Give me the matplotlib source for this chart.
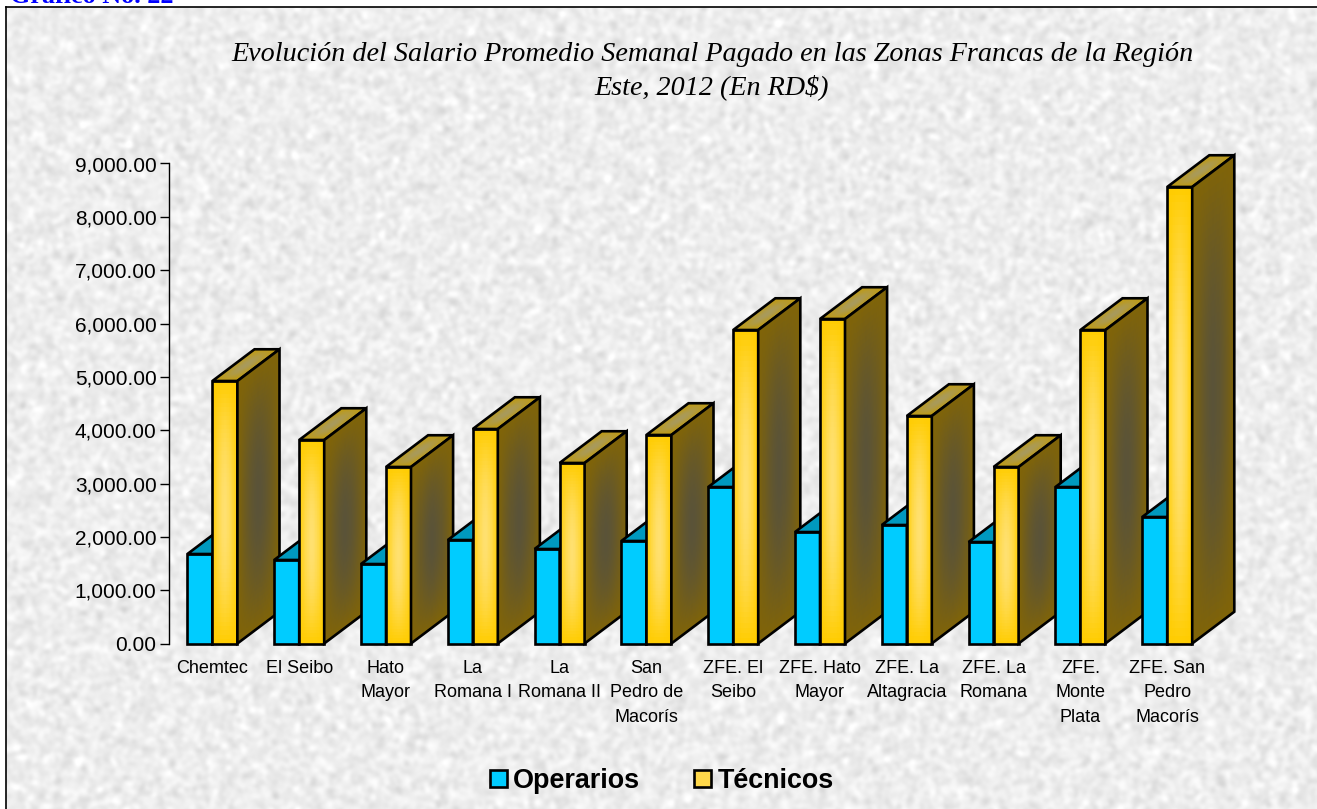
import numpy as np
import matplotlib
matplotlib.use("Agg")
import matplotlib.pyplot as plt
from matplotlib.patches import Patch

W, H = 1317, 809

# Data
zonas = ["Chemtec", "El Seibo", "Hato\nMayor", "La\nRomana I", "La\nRomana II",
         "San\nPedro de\nMacorís", "ZFE. El\nSeibo", "ZFE. Hato\nMayor",
         "ZFE. La\nAltagracia", "ZFE. La\nRomana", "ZFE.\nMonte\nPlata",
         "ZFE. San\nPedro\nMacorís"]
operarios = [1678, 1566, 1490, 1940, 1772, 1922, 2934, 2090, 2222, 1903, 2934, 2372]
tecnicos = [4922, 3816, 3310, 4022, 3385, 3910, 5878, 6085, 4266, 3310, 5878, 8560]
yticks = [0, 1000, 2000, 3000, 4000, 5000, 6000, 7000, 8000, 9000]

titulo = "Evolución del Salario Promedio Semanal Pagado en las Zonas Francas de la Región\nEste, 2012 (En RD$)"
encabezado = "Gráfico No. 22"

bar_w = 0.288
depth_x = 0.485
depth_y = 595

fig = plt.figure(figsize=(W / 100, H / 100), dpi=100, facecolor="white")

# background paper texture, only decoration
bg = fig.add_axes([6 / W, 0, 1 - 6 / W, 1 - 7 / H], zorder=-1)
rng = np.random.default_rng(4)
noise = rng.normal(size=(H, W))
fx = np.fft.fftfreq(W)[None, :]
fy = np.fft.fftfreq(H)[:, None]
r = np.sqrt(fx ** 2 + fy ** 2)
filt = np.exp(-(r / 0.09) ** 2) * (1 - np.exp(-(r / 0.015) ** 2))
tex = np.fft.ifft2(np.fft.fft2(noise) * filt).real
tex = tex / tex.std()
bg.imshow(np.clip(0.93 + 0.022 * tex, 0, 1), cmap="gray", vmin=0, vmax=1, aspect="auto")
bg.set_xticks([])
bg.set_yticks([])
for s in ["right", "bottom"]:
    bg.spines[s].set_visible(False)
for s in ["left", "top"]:
    bg.spines[s].set_linewidth(1.2)

ax = fig.add_axes([169 / W, (H - 643.5) / H, 12 * 86.8 / W, 480 / H])
ax.patch.set_visible(False)


def hexrgb(c):
    return np.array(matplotlib.colors.to_rgb(c))


# one face of a bar with a soft highlight in the middle
def face(p, du, dv, edge, mid, z):
    u = np.linspace(0, 1, 41)
    v = np.linspace(0, 1, 61)
    U, V = np.meshgrid(u, v)
    X = p[0] + U * du[0] + V * dv[0]
    Y = p[1] + U * du[1] + V * dv[1]
    uc = (u[:-1] + u[1:]) / 2
    vc = (v[:-1] + v[1:]) / 2
    UC, VC = np.meshgrid(uc, vc)
    t = (1 - np.abs(2 * UC - 1) ** 1.6) * (1 - np.abs(2 * VC - 1) ** 2)
    col = hexrgb(edge) + t[..., None] * (hexrgb(mid) - hexrgb(edge))
    ax.pcolormesh(X, Y, col, zorder=z, linewidth=0, antialiased=False, clip_on=False)
    px = [p[0], p[0] + du[0], p[0] + du[0] + dv[0], p[0] + dv[0]]
    py = [p[1], p[1] + du[1], p[1] + du[1] + dv[1], p[1] + dv[1]]
    ax.fill(px, py, fc="none", ec="black", lw=1.9, joinstyle="miter", zorder=z + 0.1, clip_on=False)


def bar3d(x0, val, cols, z):
    face((x0, 0), (bar_w, 0), (0, val), cols[0], cols[1], z)
    face((x0, val), (bar_w, 0), (depth_x, depth_y), cols[2], cols[3], z + 0.2)
    face((x0 + bar_w, 0), (depth_x, depth_y), (0, val), cols[4], cols[5], z + 0.4)


azul = ["#00CCFF", "#00CCFF", "#0099BF", "#0099BF", "#0099BF", "#0099BF"]
oro = ["#FFCC00", "#FFE070", "#BF9A10", "#A89A5C", "#806408", "#5A5338"]

z = 3
for i in range(len(zonas)):
    bar3d(i - bar_w, operarios[i], azul, z)
    z += 1
    bar3d(i, tecnicos[i], oro, z)
    z += 1

ax.set_xlim(-0.5, len(zonas) - 0.5)
ax.set_ylim(0, 9000)
ax.set_yticks(yticks)
ax.set_yticklabels([f"{v:,.2f}" for v in yticks], family="Liberation Sans", fontsize=15)
ax.tick_params(axis="y", length=6.5, width=1, pad=2.5)
ax.set_xticks(range(len(zonas)))
ax.set_xticklabels(zonas, family="Liberation Sans", fontsize=13, linespacing=1.56)
ax.tick_params(axis="x", length=0, pad=12)
for s in ["top", "right", "bottom"]:
    ax.spines[s].set_visible(False)
ax.spines["left"].set_linewidth(1)

fig.text(712 / W, 1 - 71 / H, titulo, family="Liberation Serif", style="italic", fontsize=20.25,
         ha="center", va="center", linespacing=1.38)
fig.text(10 / W, 1 - 3 / H, encabezado, family="Liberation Serif", weight="bold", fontsize=18.8,
         color="#0000FF", ha="left", va="baseline")

handles = [Patch(fc="#00CCFF", ec="black", lw=1.9), Patch(fc="#FFD84A", ec="black", lw=1.9)]
fig.legend(handles, ["Operarios", "Técnicos"], loc="center", bbox_to_anchor=(662 / W, 1 - 781 / H),
           ncol=2, frameon=False, handlelength=0.6, handleheight=0.6, handletextpad=0.25,
           columnspacing=2.0, prop={"family": "Liberation Sans", "weight": "bold", "size": 19.4})

fig.savefig("out.png", dpi=100, facecolor="white")
